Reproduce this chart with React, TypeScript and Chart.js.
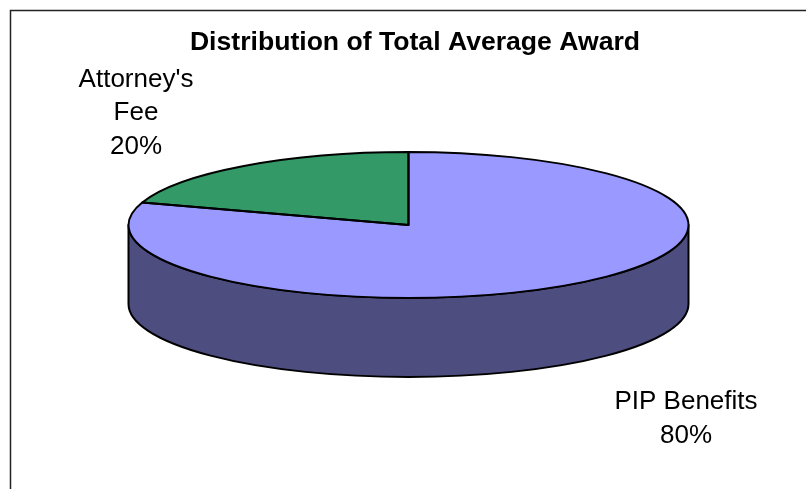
import React, { useEffect, useRef } from "react";
import { Chart, registerables } from "chart.js";

Chart.register(...registerables);

const titleText = "Distribution of Total Average Award";
const categories = ["PIP Benefits", "Attorney's Fee"];
const values = [80, 20];
const sliceColors = ["#9999FF", "#339966"];
const labelLines = [["PIP Benefits", "80%"], ["Attorney's", "Fee", "20%"]];
const labelAnchors = [
  { x: 686, y: 402 },
  { x: 136, y: 79.5 },
];

const FONT = '"Liberation Sans", Arial, sans-serif';
const tilt = { cx: 408.5, cy: 225, rx: 280, ry: 73, depth: 79 };
const OUTLINE = 2;

function shade(hex: string) {
  const n = parseInt(hex.slice(1), 16);
  const c = (v: number) => Math.round(v * 0.5);
  return `rgb(${c((n >> 16) & 255)},${c((n >> 8) & 255)},${c(n & 255)})`;
}

function applyTilt(ctx: CanvasRenderingContext2D, arc: any, dy = 0) {
  const { x, y, outerRadius } = arc.getProps(["x", "y", "outerRadius"], true);
  ctx.translate(tilt.cx, tilt.cy + dy);
  ctx.scale(tilt.rx / outerRadius, tilt.ry / outerRadius);
  ctx.translate(-x, -y);
}

const framePlugin = {
  id: "frame",
  beforeDraw(chart: any) {
    const { ctx } = chart;
    ctx.save();
    ctx.fillStyle = "#fff";
    ctx.fillRect(0, 0, chart.width, chart.height);
    ctx.strokeStyle = "#222";
    ctx.lineWidth = 1.5;
    ctx.strokeRect(10.5, 10.5, chart.width + 40, chart.height + 40);
    ctx.restore();
  },
};

const tiltPlugin = {
  id: "tilt",
  beforeDatasetsDraw(chart: any) {
    const { ctx } = chart;
    const arcs = chart.getDatasetMeta(0).data;
    // Side wall: front-facing part of every slice
    arcs.forEach((arc: any, i: number) => {
      const { startAngle, endAngle, x, y, outerRadius } = arc.getProps(
        ["startAngle", "endAngle", "x", "y", "outerRadius"],
        true
      );
      const a = Math.max(startAngle, 0);
      const b = Math.min(endAngle, Math.PI);
      if (b <= a) return;
      ctx.save();
      applyTilt(ctx, arc);
      ctx.beginPath();
      ctx.arc(x, y, outerRadius, a, b);
      ctx.restore();
      ctx.save();
      applyTilt(ctx, arc, tilt.depth);
      ctx.arc(x, y, outerRadius, b, a, true);
      ctx.closePath();
      ctx.restore();
      ctx.fillStyle = shade(sliceColors[i]);
      ctx.strokeStyle = "#000";
      ctx.lineWidth = OUTLINE;
      ctx.lineJoin = "round";
      ctx.fill();
      ctx.stroke();
    });
    ctx.save();
    applyTilt(ctx, arcs[0]);
  },
  afterDatasetsDraw(chart: any) {
    const { ctx } = chart;
    ctx.restore();
    chart.getDatasetMeta(0).data.forEach((arc: any) => {
      const { startAngle, endAngle, x, y, outerRadius } = arc.getProps(
        ["startAngle", "endAngle", "x", "y", "outerRadius"],
        true
      );
      ctx.save();
      applyTilt(ctx, arc);
      ctx.beginPath();
      ctx.moveTo(x, y);
      ctx.arc(x, y, outerRadius, startAngle, endAngle);
      ctx.closePath();
      ctx.restore();
      ctx.strokeStyle = "#000";
      ctx.lineWidth = OUTLINE;
      ctx.lineJoin = "round";
      ctx.stroke();
    });
    // Slice labels
    ctx.save();
    ctx.fillStyle = "#000";
    ctx.font = `26px ${FONT}`;
    ctx.textAlign = "center";
    ctx.textBaseline = "middle";
    labelLines.forEach((lines, i) => {
      lines.forEach((t, j) => ctx.fillText(t, labelAnchors[i].x, labelAnchors[i].y + j * 33.5));
    });
    ctx.restore();
  },
};

export default function App() {
  const ref = useRef<HTMLCanvasElement>(null);
  useEffect(() => {
    const chart = new Chart(ref.current!, {
      type: "pie",
      data: {
        labels: categories,
        datasets: [
          { data: values, backgroundColor: sliceColors, borderWidth: 0, clip: false } as any,
        ],
      },
      options: {
        animation: false,
        responsive: false,
        devicePixelRatio: 1,
        events: [],
        layout: { padding: { left: 24, top: 27 } },
        plugins: {
          legend: { display: false },
          tooltip: { enabled: false },
          title: {
            display: true,
            text: titleText,
            color: "#000",
            font: { family: FONT, size: 26.6, weight: "bold" },
            padding: { top: 0, bottom: 10 },
          },
        },
      },
      plugins: [framePlugin, tiltPlugin],
    });
    return () => chart.destroy();
  }, []);
  return (
    <canvas
      ref={ref}
      width={806}
      height={489}
      style={{ position: "fixed", left: 0, top: 0, display: "block" }}
    />
  );
}
